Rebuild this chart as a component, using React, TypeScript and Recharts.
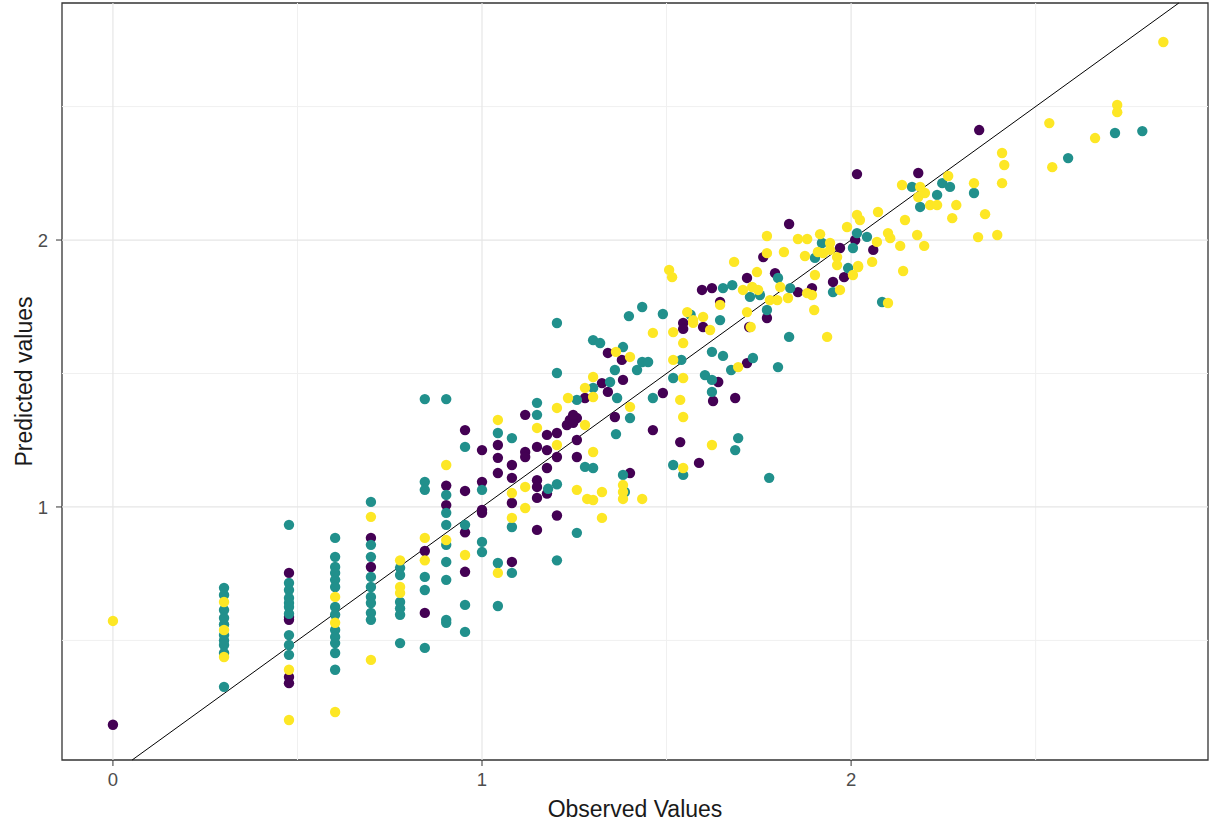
import {
  ReferenceArea,
  ReferenceLine,
  Scatter,
  ScatterChart,
  XAxis,
  YAxis
} from 'recharts'

// [observed, predicted]
const groupA: [number, number][] = [
  [0, 0.184],
  [0.477, 0.753], [0.477, 0.588], [0.477, 0.577], [0.477, 0.363], [0.477, 0.34],
  [0.699, 0.884], [0.699, 0.775],
  [0.845, 0.835], [0.845, 0.603],
  [0.903, 1.08], [0.903, 1.007],
  [0.954, 1.288], [0.954, 1.06], [0.954, 0.905], [0.954, 0.757],
  [1.0, 1.213], [1.0, 1.094], [1.0, 0.989], [1.0, 0.978],
  [1.043, 1.232], [1.043, 1.184], [1.043, 1.127],
  [1.081, 1.157], [1.081, 1.109], [1.081, 1.015], [1.081, 0.794],
  [1.117, 1.345], [1.117, 1.206], [1.117, 1.187],
  [1.149, 1.225], [1.149, 1.1], [1.149, 1.075], [1.149, 1.034], [1.149, 0.914],
  [1.176, 1.27], [1.176, 1.213], [1.176, 1.146], [1.176, 1.05],
  [1.203, 1.277], [1.203, 1.187], [1.203, 0.968],
  [1.238, 1.326], [1.257, 1.333], [1.23, 1.307], [1.247, 1.315], [1.247, 1.345],
  [1.257, 1.251], [1.257, 1.187],
  [1.279, 1.408], [1.325, 1.464], [1.341, 1.577], [1.341, 1.431], [1.36, 1.337],
  [1.379, 1.551], [1.382, 1.476], [1.401, 1.127], [1.463, 1.288], [1.49, 1.427],
  [1.537, 1.243], [1.545, 1.689], [1.545, 1.667], [1.588, 1.165],
  [1.596, 1.813], [1.623, 1.82], [1.599, 1.674], [1.626, 1.397], [1.64, 1.468],
  [1.645, 1.768], [1.686, 1.408], [1.718, 1.858], [1.718, 1.539], [1.724, 1.674],
  [1.762, 1.936], [1.772, 1.708], [1.794, 1.876], [1.832, 2.06],
  [1.856, 1.805], [1.894, 1.82], [1.951, 1.843], [1.97, 1.97], [1.981, 1.861],
  [2.011, 2.0], [2.016, 2.247], [2.06, 1.963], [2.182, 2.251], [2.347, 2.412]
]

const groupB: [number, number][] = [
  [0.301, 0.697], [0.301, 0.67], [0.301, 0.614], [0.301, 0.584], [0.301, 0.56],
  [0.301, 0.52], [0.301, 0.5], [0.301, 0.483], [0.301, 0.453], [0.301, 0.326],
  [0.477, 0.933], [0.477, 0.715], [0.477, 0.689], [0.477, 0.659], [0.477, 0.64],
  [0.477, 0.625], [0.477, 0.6], [0.477, 0.52], [0.477, 0.483], [0.477, 0.446],
  [0.602, 0.884], [0.602, 0.813], [0.602, 0.775], [0.602, 0.753], [0.602, 0.727],
  [0.602, 0.7], [0.602, 0.625], [0.602, 0.596], [0.602, 0.539], [0.602, 0.513],
  [0.602, 0.49], [0.602, 0.453], [0.602, 0.39],
  [0.699, 1.019], [0.699, 0.858], [0.699, 0.813], [0.699, 0.738], [0.699, 0.7],
  [0.699, 0.663], [0.699, 0.64], [0.699, 0.603], [0.699, 0.577],
  [0.778, 0.772], [0.778, 0.745], [0.778, 0.644], [0.778, 0.62], [0.778, 0.596], [0.778, 0.49],
  [0.845, 1.404], [0.845, 1.094], [0.845, 1.064], [0.845, 0.738], [0.845, 0.689], [0.845, 0.472],
  [0.903, 1.404], [0.903, 1.045], [0.903, 0.978], [0.903, 0.933], [0.903, 0.858],
  [0.903, 0.794], [0.903, 0.727], [0.903, 0.577], [0.903, 0.566],
  [0.954, 1.225], [0.954, 0.933], [0.954, 0.633], [0.954, 0.532],
  [1.0, 1.064], [1.0, 0.869], [1.0, 0.831],
  [1.043, 1.277], [1.043, 0.79], [1.043, 0.629],
  [1.081, 1.258], [1.081, 0.925], [1.081, 0.753],
  [1.149, 1.39], [1.149, 1.345],
  [1.179, 1.068], [1.203, 1.085],
  [1.203, 1.689], [1.203, 1.502], [1.203, 0.8],
  [1.257, 0.903], [1.257, 1.401], [1.279, 1.15], [1.301, 1.146],
  [1.301, 1.625], [1.32, 1.614], [1.301, 1.446], [1.347, 1.468], [1.36, 1.513],
  [1.366, 1.408], [1.382, 1.599], [1.363, 1.273], [1.382, 1.12], [1.387, 1.056],
  [1.398, 1.715], [1.401, 1.333], [1.42, 1.513], [1.434, 1.749], [1.434, 1.543],
  [1.45, 1.543], [1.463, 1.408], [1.49, 1.723], [1.518, 1.483], [1.518, 1.157],
  [1.545, 1.12], [1.565, 1.72], [1.54, 1.551],
  [1.653, 1.82], [1.678, 1.831], [1.726, 1.787], [1.753, 1.794], [1.772, 1.738],
  [1.802, 1.858], [1.835, 1.82], [1.902, 1.933], [1.921, 1.989], [1.951, 1.805],
  [1.992, 1.895], [2.005, 1.97], [2.016, 2.026], [2.043, 2.012],
  [1.645, 1.7], [1.832, 1.637], [1.623, 1.581], [1.653, 1.566], [1.675, 1.513],
  [1.734, 1.558], [1.802, 1.524], [1.604, 1.494], [1.623, 1.476], [1.623, 1.431],
  [1.694, 1.258], [1.686, 1.213], [1.778, 1.109], [2.084, 1.768],
  [2.165, 2.199], [2.247, 2.213], [2.268, 2.199], [2.333, 2.176], [2.233, 2.169],
  [2.187, 2.124], [2.588, 2.307], [2.715, 2.401], [2.789, 2.408]
]

const groupC: [number, number][] = [
  [0, 0.573],
  [0.301, 0.644], [0.301, 0.539], [0.301, 0.438],
  [0.477, 0.39], [0.477, 0.202],
  [0.602, 0.663], [0.602, 0.566], [0.602, 0.232],
  [0.699, 0.963], [0.699, 0.427],
  [0.778, 0.8], [0.778, 0.7], [0.778, 0.678],
  [0.845, 0.884], [0.845, 0.8],
  [0.903, 1.157], [0.903, 0.876],
  [0.954, 0.82],
  [1.043, 1.326], [1.043, 0.753],
  [1.081, 1.052], [1.081, 0.959],
  [1.117, 1.075], [1.117, 0.996],
  [1.149, 1.296],
  [1.203, 1.371], [1.203, 1.232], [1.233, 1.408], [1.257, 1.064],
  [1.279, 1.446], [1.279, 1.307], [1.285, 1.03], [1.301, 1.026],
  [1.301, 1.487], [1.301, 1.412], [1.301, 1.206], [1.325, 1.056], [1.325, 0.959],
  [1.363, 1.581], [1.382, 1.082], [1.382, 1.056], [1.382, 1.03],
  [1.401, 1.562], [1.401, 1.375], [1.434, 1.03], [1.463, 1.652],
  [1.518, 1.655], [1.518, 1.551], [1.545, 1.614], [1.545, 1.483], [1.545, 1.337],
  [1.545, 1.146], [1.537, 1.401], [1.556, 1.73], [1.572, 1.69],
  [1.507, 1.888], [1.515, 1.861], [1.572, 1.7], [1.599, 1.712], [1.618, 1.663],
  [1.623, 1.232], [1.645, 1.757], [1.683, 1.918], [1.694, 1.524],
  [1.707, 1.813], [1.732, 1.824], [1.748, 1.813], [1.718, 1.73], [1.728, 1.674],
  [1.745, 1.88], [1.772, 2.015], [1.772, 1.951], [1.78, 1.775], [1.8, 1.775],
  [1.829, 1.783], [1.808, 1.824], [1.818, 1.955], [1.856, 2.004], [1.881, 2.004],
  [1.875, 1.94], [1.881, 1.801], [1.894, 1.794], [1.9, 1.738], [1.902, 1.869],
  [1.91, 1.955], [1.924, 1.951], [1.943, 1.963], [1.962, 1.936], [1.916, 2.022],
  [1.935, 1.637], [1.943, 1.989], [1.962, 1.906], [1.97, 1.813], [1.989, 2.049],
  [2.005, 1.869], [2.019, 1.899], [2.016, 2.094], [2.024, 2.075], [2.019, 1.903],
  [2.057, 1.918], [2.07, 1.993], [2.073, 2.105], [2.1, 2.026], [2.106, 2.007],
  [2.1, 1.764], [2.133, 1.978], [2.138, 2.206], [2.141, 1.884], [2.146, 2.075],
  [2.179, 2.019], [2.182, 2.161], [2.2, 2.176], [2.187, 2.199], [2.198, 1.978],
  [2.214, 2.131], [2.233, 2.131], [2.263, 2.24], [2.274, 2.082], [2.285, 2.131],
  [2.333, 2.213], [2.344, 2.011], [2.363, 2.097], [2.396, 2.019],
  [2.409, 2.326], [2.415, 2.281], [2.409, 2.213],
  [2.537, 2.438], [2.545, 2.273], [2.661, 2.382], [2.721, 2.506], [2.721, 2.479],
  [2.846, 2.742]
]

const xTicks = [0, 1, 2]
const yTicks = [1, 2]
const xMajor = [0, 1, 2]
const xMinor = [0.5, 1.5, 2.5]
const yMajor = [1, 2]
const yMinor = [0.5, 1.5, 2.5]

const X_MIN = -0.138
const X_MAX = 2.967
const Y_MIN = 0.052
const Y_MAX = 2.888

const toXY = (pts: [number, number][]) => pts.map(([x, y]) => ({ x, y }))

const dot = (color: string) => (props: any) => (
  <circle cx={props.cx} cy={props.cy} r={5.2} fill={color} />
)

const FONT = '"Liberation Sans", Arial, sans-serif'
const tickStyle = { fill: '#4D4D4D', fontSize: 18.5, fontFamily: FONT }

export default function App() {
  return (
    <div style={{ position: 'absolute', left: 0, top: 0, width: 1210, height: 822, background: '#fff' }}>
      <ScatterChart width={1210} height={822} margin={{ top: 3, right: 2, bottom: 0, left: 0 }}>
        <XAxis
          type="number"
          dataKey="x"
          domain={[X_MIN, X_MAX]}
          ticks={xTicks}
          allowDataOverflow
          height={62}
          axisLine={false}
          tickLine={{ stroke: '#333333' }}
          tickSize={6}
          tickMargin={7}
          tick={tickStyle}
          label={{ value: 'Observed Values', position: 'insideBottom', offset: 5, fill: '#1a1a1a', fontSize: 23, fontFamily: FONT }}
        />
        <YAxis
          type="number"
          dataKey="y"
          domain={[Y_MIN, Y_MAX]}
          ticks={yTicks}
          allowDataOverflow
          width={62}
          axisLine={false}
          tickLine={{ stroke: '#333333' }}
          tickSize={6}
          tickMargin={8}
          tick={tickStyle}
          label={{
            value: 'Predicted values',
            angle: -90,
            position: 'insideLeft',
            offset: 24,
            fill: '#1a1a1a',
            fontSize: 23,
            fontFamily: FONT,
            style: { textAnchor: 'middle' }
          }}
        />
        {xMinor.map((v) => (
          <ReferenceLine key={`xm-${v}`} x={v} stroke="#F0F0F0" strokeWidth={1} />
        ))}
        {yMinor.map((v) => (
          <ReferenceLine key={`ym-${v}`} y={v} stroke="#F0F0F0" strokeWidth={1} />
        ))}
        {xMajor.map((v) => (
          <ReferenceLine key={`xM-${v}`} x={v} stroke="#E6E6E6" strokeWidth={1.2} />
        ))}
        {yMajor.map((v) => (
          <ReferenceLine key={`yM-${v}`} y={v} stroke="#E6E6E6" strokeWidth={1.2} />
        ))}
        <Scatter data={toXY(groupA)} fill="#440154" shape={dot('#440154')} isAnimationActive={false} />
        <Scatter data={toXY(groupB)} fill="#21908C" shape={dot('#21908C')} isAnimationActive={false} />
        <Scatter data={toXY(groupC)} fill="#FDE725" shape={dot('#FDE725')} isAnimationActive={false} />
        <ReferenceLine
          segment={[{ x: Y_MIN, y: Y_MIN }, { x: Y_MAX, y: Y_MAX }]}
          stroke="#000000"
          strokeWidth={1}
        />
        <ReferenceArea
          x1={X_MIN}
          x2={X_MAX}
          y1={Y_MIN}
          y2={Y_MAX}
          fill="none"
          stroke="#333333"
          strokeWidth={1.3}
        />
      </ScatterChart>
    </div>
  )
}
